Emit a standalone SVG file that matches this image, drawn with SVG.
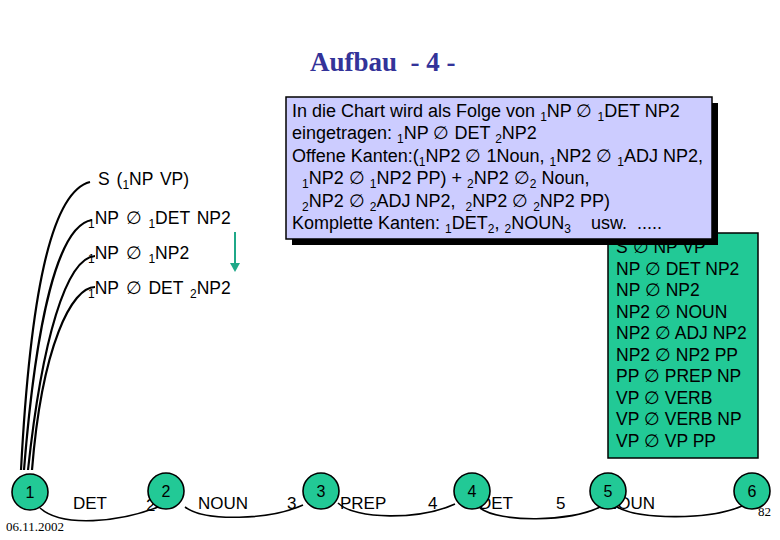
<svg xmlns="http://www.w3.org/2000/svg" width="780" height="540" viewBox="0 0 780 540">
<defs>
<style>
.t{font-family:"Liberation Sans",Arial,sans-serif;font-size:18px;fill:#000}
.l{font-family:"Liberation Sans",Arial,sans-serif;font-size:17.5px;fill:#000;word-spacing:2px}
.g{font-family:"Liberation Sans",Arial,sans-serif;font-size:17.5px;fill:#000}
.s{font-size:12px}
.c{font-family:"Liberation Sans",Arial,sans-serif;font-size:17px;fill:#000}
.n{font-family:"Liberation Sans",Arial,sans-serif;font-size:16px;fill:#000;text-anchor:middle}
.sm{font-family:"Liberation Serif","Times New Roman",serif;font-size:13px;fill:#000}
.curve{fill:none;stroke:#000;stroke-width:2.2}
.arc{fill:none;stroke:#000;stroke-width:1.6}
.node{fill:#22c996;stroke:#000;stroke-width:1.6}
</style>
</defs>
<rect width="780" height="540" fill="#fff"/>
<text x="310" y="71" font-family="'Liberation Serif','Times New Roman',serif" font-weight="bold" font-size="27" fill="#333399" xml:space="preserve">Aufbau  - 4 -</text>

<g id="connectors">
<path class="curve" d="M90,182 C50,192 30,300 21,470"/>
<path class="curve" d="M92,220 C58,225 36,320 24,470"/>
<path class="curve" d="M95,256 C66,258 42,340 28,470"/>
<path class="curve" d="M95,287 C72,287 42,345 32,470"/>
<path class="arc" d="M40,508 C62,528 120,522 158,507"/>
<path class="arc" d="M185,507 C205,522 270,520 303,505"/>
<path class="arc" d="M338,503 C355,520 420,520 455,504"/>
<path class="arc" d="M480,508 C500,523 570,522 600,507"/>
<path class="arc" d="M617,507 C640,520 710,520 742,506"/>
<line x1="235" y1="232" x2="235" y2="265" stroke="#1fa888" stroke-width="2"/>
<path d="M230,263 L240,263 L235,272 Z" fill="#1fa888"/>
</g>

<g id="labels-left">
<text class="l" x="98" y="185">S (<tspan class="s" dy="4">1</tspan><tspan dy="-4">NP VP)</tspan></text>
<text class="l" x="88" y="224"><tspan class="s" dy="4">1</tspan><tspan dy="-4">NP ∅ </tspan><tspan class="s" dy="4">1</tspan><tspan dy="-4">DET NP2</tspan></text>
<text class="l" x="88" y="259"><tspan class="s" dy="4">1</tspan><tspan dy="-4">NP ∅ </tspan><tspan class="s" dy="4">1</tspan><tspan dy="-4">NP2</tspan></text>
<text class="l" x="88" y="294"><tspan class="s" dy="4">1</tspan><tspan dy="-4">NP ∅ DET </tspan><tspan class="s" dy="4">2</tspan><tspan dy="-4">NP2</tspan></text>
</g>

<g id="grammar">
<rect x="608" y="233" width="150" height="225" fill="#22c996" stroke="#000" stroke-width="1.5"/>
<text class="g" x="616" y="253">S ∅ NP VP</text>
<text class="g" x="616" y="275">NP ∅ DET NP2</text>
<text class="g" x="616" y="296">NP ∅ NP2</text>
<text class="g" x="616" y="318">NP2 ∅ NOUN</text>
<text class="g" x="616" y="339">NP2 ∅ ADJ NP2</text>
<text class="g" x="616" y="361">NP2 ∅ NP2 PP</text>
<text class="g" x="616" y="382">PP ∅ PREP NP</text>
<text class="g" x="616" y="404">VP ∅ VERB</text>
<text class="g" x="616" y="425">VP ∅ VERB NP</text>
<text class="g" x="616" y="447">VP ∅ VP PP</text>
</g>

<g id="note">
<rect x="292" y="103" width="426" height="142" fill="#000"/>
<rect x="286" y="97" width="426" height="142" fill="#ccccff" stroke="#000" stroke-width="1.5"/>
<text class="t" x="292" y="117" xml:space="preserve">In die Chart wird als Folge von <tspan class="s" dy="4">1</tspan><tspan dy="-4">NP ∅ </tspan><tspan class="s" dy="4">1</tspan><tspan dy="-4">DET NP2</tspan></text>
<text class="t" x="292" y="139" xml:space="preserve">eingetragen: <tspan class="s" dy="4">1</tspan><tspan dy="-4">NP ∅ DET </tspan><tspan class="s" dy="4">2</tspan><tspan dy="-4">NP2</tspan></text>
<text class="t" x="292" y="162" xml:space="preserve">Offene Kanten:(<tspan class="s" dy="4">1</tspan><tspan dy="-4">NP2 ∅ 1Noun, </tspan><tspan class="s" dy="4">1</tspan><tspan dy="-4">NP2 ∅ </tspan><tspan class="s" dy="4">1</tspan><tspan dy="-4">ADJ NP2,</tspan></text>
<text class="t" x="292" y="184" xml:space="preserve">  <tspan class="s" dy="4">1</tspan><tspan dy="-4">NP2 ∅ </tspan><tspan class="s" dy="4">1</tspan><tspan dy="-4">NP2 PP) + </tspan><tspan class="s" dy="4">2</tspan><tspan dy="-4">NP2 ∅</tspan><tspan class="s" dy="4">2</tspan><tspan dy="-4"> Noun,</tspan></text>
<text class="t" x="292" y="207" xml:space="preserve">  <tspan class="s" dy="4">2</tspan><tspan dy="-4">NP2 ∅ </tspan><tspan class="s" dy="4">2</tspan><tspan dy="-4">ADJ NP2,  </tspan><tspan class="s" dy="4">2</tspan><tspan dy="-4">NP2 ∅ </tspan><tspan class="s" dy="4">2</tspan><tspan dy="-4">NP2 PP)</tspan></text>
<text class="t" x="292" y="229" xml:space="preserve">Komplette Kanten: <tspan class="s" dy="4">1</tspan><tspan dy="-4">DET</tspan><tspan class="s" dy="4">2</tspan><tspan dy="-4">, </tspan><tspan class="s" dy="4">2</tspan><tspan dy="-4">NOUN</tspan><tspan class="s" dy="4">3</tspan><tspan dy="-4">    usw.  .....</tspan></text>
</g>

<g id="edge-labels">
<text class="c" x="73" y="509">DET</text>
<text class="c" x="146" y="511">2</text>
<text class="c" x="198" y="509">NOUN</text>
<text class="c" x="287" y="509">3</text>
<text class="c" x="340" y="509">PREP</text>
<text class="c" x="428" y="509">4</text>
<text class="c" x="479" y="509">DET</text>
<text class="c" x="556" y="509">5</text>
<text class="c" x="605" y="509">NOUN</text>
</g>

<g id="node1"><circle class="node" cx="30" cy="492" r="18"/><text class="n" x="30" y="498">1</text></g>
<g id="node2"><circle class="node" cx="166" cy="491" r="18"/><text class="n" x="166" y="497">2</text></g>
<g id="node3"><circle class="node" cx="321" cy="491" r="18"/><text class="n" x="321" y="497">3</text></g>
<g id="node4"><circle class="node" cx="472" cy="491" r="18"/><text class="n" x="472" y="497">4</text></g>
<g id="node5"><circle class="node" cx="608" cy="491" r="18"/><text class="n" x="608" y="497">5</text></g>
<g id="node6"><circle class="node" cx="752" cy="491" r="18"/><text class="n" x="752" y="497">6</text></g>

<text class="sm" x="6" y="531">06.11.2002</text>
<text class="sm" x="758" y="516">82</text>
</svg>
